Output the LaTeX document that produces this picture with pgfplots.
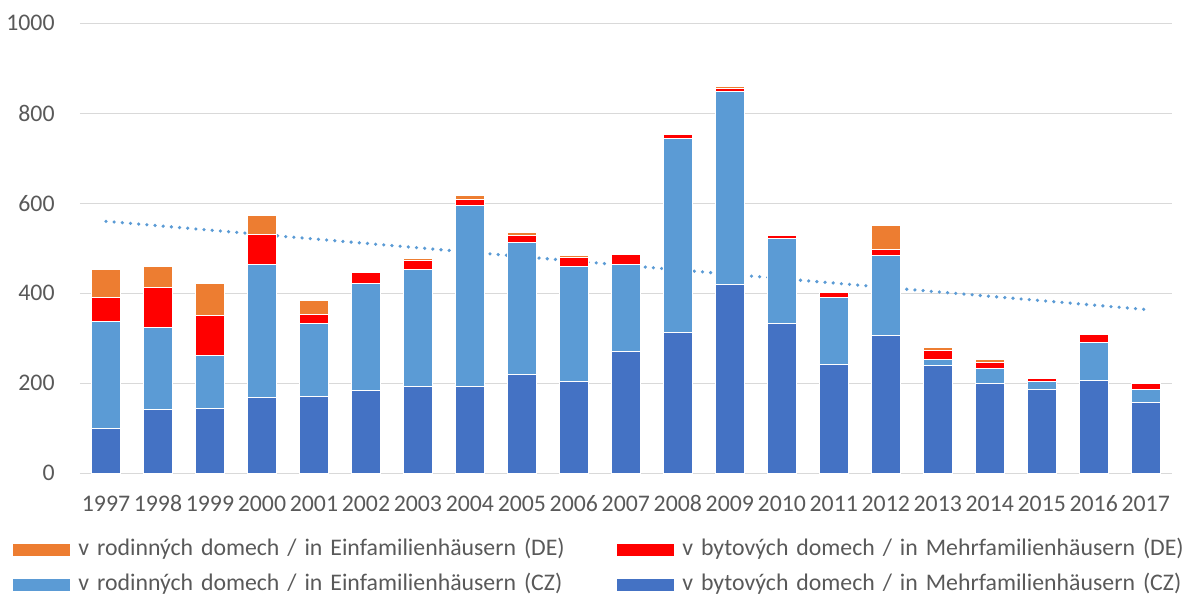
\documentclass[border=0pt]{standalone}
\usepackage{pgfplots}
\pgfplotsset{compat=1.18}
\usepackage{fontspec}
\setmainfont{Carlito}
\definecolor{cDark}{HTML}{4472C4}
\definecolor{cLight}{HTML}{5B9BD5}
\definecolor{cRed}{HTML}{FF0000}
\definecolor{cOrange}{HTML}{ED7D31}
\definecolor{txt}{HTML}{595959}
\definecolor{gridc}{HTML}{D9D9D9}
\begin{document}
\begin{tikzpicture}
\begin{axis}[name=ax,
  width=545.85pt, height=225pt, scale only axis,
  ybar stacked, bar width=14.7pt,
  xmin=-0.5, xmax=20.5, ymin=0, ymax=1000,
  xtick={0,...,20},
  xticklabels={1997,1998,1999,2000,2001,2002,2003,2004,2005,2006,2007,2008,2009,2010,2011,2012,2013,2014,2015,2016,2017},
  ytick={0,200,400,600,800,1000},
  ymajorgrids, major grid style={draw=gridc, line width=0.75pt},
  axis x line*=bottom, axis y line*=left,
  x axis line style={draw=gridc, line width=0.75pt, -},
  y axis line style={draw=none},
  major tick length=0pt,
  tick style={draw=none},
  /pgf/number format/assume math mode=true,
  /pgf/number format/1000 sep={},
  tick label style={font=\fontsize{11.9}{13.5}\selectfont, text=txt},
  xticklabel style={anchor=base, inner sep=0pt, yshift=-19.2pt},
  yticklabel style={anchor=east, inner sep=0pt, xshift=-12.5pt},
  legend image code/.code={\fill[#1] (0pt,-3.25pt) rectangle (29pt,3.25pt);},
  legend columns=2, reverse legend, legend cell align=left,
  legend style={draw=none, fill=none, inner sep=0pt,
    at={(axis description cs:0,0)}, anchor=north west,
    xshift=-34pt, yshift=-32.6pt,
    font=\fontsize{11.9}{13.5}\selectfont, text=txt,
    row sep=6.3pt,
    nodes={inner sep=0pt, text height=8.5pt, text depth=2.5pt, text width=262pt, align=left},
    /tikz/every odd column/.style={column sep=3.5pt},
    /tikz/every even column/.style={column sep=7pt}},
  every axis plot/.append style={draw=white, line width=0.5pt},
]
\addplot[fill=cDark, draw=white] coordinates {(0,100) (1,142) (2,145) (3,169) (4,170) (5,183) (6,194) (7,194) (8,219) (9,204) (10,270) (11,314) (12,419) (13,332) (14,242) (15,307) (16,239) (17,199) (18,187) (19,206) (20,157)};
\addlegendentry{v bytových domech / in Mehrfamilienhäusern (CZ)}
\addplot[fill=cLight, draw=white] coordinates {(0,238) (1,183) (2,116) (3,294) (4,163) (5,238) (6,260) (7,401) (8,295) (9,255) (10,195) (11,429) (12,430) (13,189) (14,148) (15,178) (16,15) (17,34) (18,16) (19,84) (20,30)};
\addlegendentry{v rodinných domech / in Einfamilienhäusern (CZ)}
\addplot[fill=cRed, draw=white] coordinates {(0,52) (1,87) (2,89) (3,68) (4,21) (5,26) (6,18) (7,14) (8,15) (9,20) (10,21) (11,10) (12,7) (13,8) (14,11) (15,12) (16,20) (17,14) (18,7) (19,18) (20,13)};
\addlegendentry{v bytových domech / in Mehrfamilienhäusern (DE)}
\addplot[fill=cOrange, draw=white] coordinates {(0,63) (1,48) (2,72) (3,42) (4,31) (5,0) (6,6) (7,8) (8,6) (9,6) (10,2) (11,3) (12,4) (13,0) (14,0) (15,53) (16,6) (17,6) (18,2) (19,3) (20,0)};
\addlegendentry{v rodinných domech / in Einfamilienhäusern (DE)}
\addplot[sharp plot, stack plots=false, forget plot, draw=cLight, line width=1.8pt, line cap=round, dash pattern=on 0pt off 4.1pt] coordinates {(0,560) (20,364)};
\end{axis}
\pgfresetboundingbox
\path ([xshift=-40pt,yshift=-61.35pt]ax.south west) rectangle ([xshift=6.65pt,yshift=11.65pt]ax.north east);
\end{tikzpicture}
\end{document}
